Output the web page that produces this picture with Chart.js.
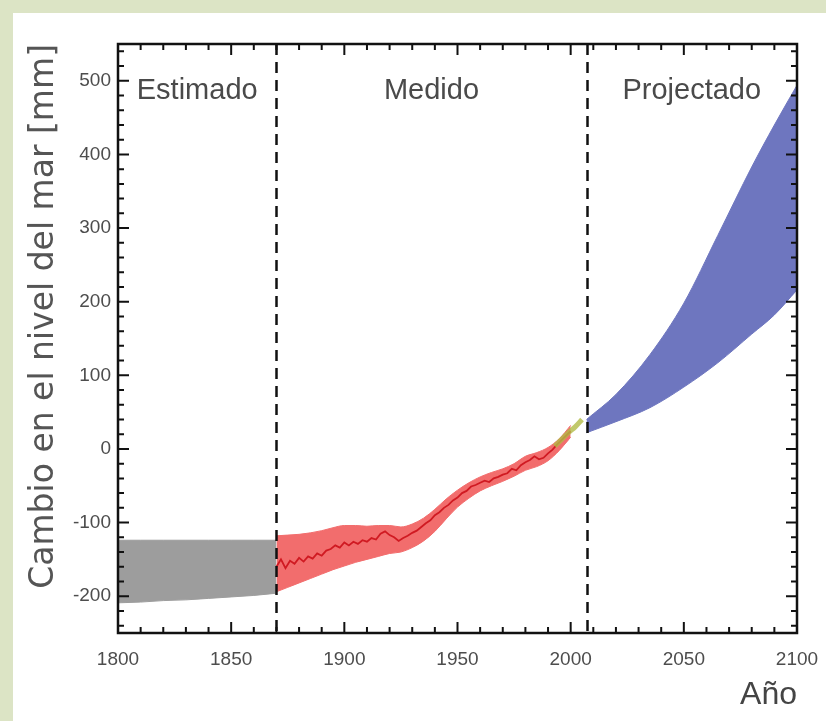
<!DOCTYPE html>
<html>
<head>
<meta charset="utf-8">
<script src="https://cdn.jsdelivr.net/npm/chart.js@4"></script>
<style>
  html, body { margin: 0; padding: 0; }
  body { width: 826px; height: 721px; background: #dce4c5; position: relative; overflow: hidden; }
  #panel { position: absolute; left: 13px; top: 13px; right: 0; bottom: 0; background: #fff; }
  #wrap { position: absolute; left: 0; top: 0; width: 826px; height: 721px; }
</style>
</head>
<body>
<div id="panel"></div>
<div id="wrap"><canvas id="seaChart" width="826" height="721"></canvas></div>
<script>
const xTickLabels = [1800, 1850, 1900, 1950, 2000, 2050, 2100];
const yTickLabels = [-200, -100, 0, 100, 200, 300, 400, 500];
const periodBounds = [1800, 1870, 2007, 2100];
const periodNames = ["Estimado", "Medido", "Projectado"];

// estimado (gris)
const estYears = [1800, 1810, 1820, 1830, 1840, 1850, 1860, 1870];
const estLow = [-209, -208, -206, -205, -203, -201, -199, -196];
const estHigh = [-124, -124, -124, -124, -124, -124, -124, -124];

// medido: banda de incertidumbre
const tideBandYears = [1870, 1875, 1880, 1885, 1890, 1895, 1900, 1905, 1910, 1915, 1920, 1925, 1930, 1935,
  1940, 1945, 1950, 1955, 1960, 1965, 1970, 1975, 1980, 1985, 1990, 1995, 2000];
const tideHigh = [-118, -117, -116, -114, -111, -107, -104, -104, -105, -104, -104, -106, -102, -94,
  -82, -68, -56, -46, -38, -32, -27, -20, -10, -5, 2, 14, 32];
const tideLow = [-194, -188, -182, -176, -170, -164, -159, -154, -150, -146, -142, -140, -134, -125,
  -112, -95, -79, -67, -57, -50, -44, -37, -29, -24, -16, -2, 16];

// medido: mareógrafos
const tideYears = [1870, 1872, 1874, 1876, 1878, 1880, 1882, 1884, 1886, 1888, 1890, 1892, 1894, 1896, 1898,
  1900, 1902, 1904, 1906, 1908, 1910, 1912, 1914, 1916, 1918, 1920, 1922, 1924, 1926, 1928,
  1930, 1932, 1934, 1936, 1938, 1940, 1942, 1944, 1946, 1948, 1950, 1952, 1954, 1956, 1958,
  1960, 1962, 1964, 1966, 1968, 1970, 1972, 1974, 1976, 1978, 1980, 1982, 1984, 1986, 1988,
  1990, 1992, 1994, 1996, 1998, 2000];
const tideValues = [-160, -150, -162, -152, -156, -148, -153, -146, -149, -142, -145, -138, -136, -131, -134,
  -127, -131, -126, -129, -124, -126, -121, -123, -115, -112, -117, -120, -125, -121, -118,
  -114, -111, -106, -101, -97, -90, -86, -80, -76, -70, -66, -60, -57, -51, -49,
  -46, -43, -45, -40, -38, -35, -33, -27, -29, -22, -18, -15, -10, -14, -12,
  -6, -1, 6, 12, 18, 24];

// satélite
const satYears = [1993, 1996, 1999, 2002, 2005];
const satValues = [4, 13, 22, 30, 40];

// proyectado
const projYears = [2007, 2020, 2035, 2050, 2065, 2080, 2090, 2100];
const projHigh = [40, 74, 128, 198, 290, 383, 440, 494];
const projLow = [22, 37, 56, 84, 117, 156, 182, 216];

const xy = (xs, ys) => xs.map((x, i) => ({ x: x, y: ys[i] }));

function band(years, vals, color, fill) {
  return {
    data: xy(years, vals),
    borderColor: color,
    borderWidth: 1,
    backgroundColor: color,
    fill: fill,
    pointRadius: 0,
    cubicInterpolationMode: "monotone",
    order: 5,
  };
}

const frameAndTicks = {
  id: "frameAndTicks",
  afterDatasetsDraw(chart) {
    const { ctx, chartArea: a, scales } = chart;
    const x = scales.x, y = scales.y;
    ctx.save();
    ctx.strokeStyle = "#111";

    // divisiones de periodo
    ctx.lineWidth = 2.5;
    ctx.setLineDash([11, 7]);
    periodBounds.slice(1, -1).forEach((yr) => {
      const px = Math.round(x.getPixelForValue(yr)) + 0.5;
      ctx.beginPath();
      ctx.moveTo(px, a.top);
      ctx.lineTo(px, a.bottom);
      ctx.stroke();
    });
    ctx.setLineDash([]);

    // marco
    ctx.lineWidth = 2.5;
    ctx.strokeRect(a.left, a.top, a.right - a.left, a.bottom - a.top);

    // marcas hacia dentro
    ctx.lineWidth = 2;
    ctx.beginPath();
    for (let yr = 1800; yr <= 2100; yr += 10) {
      const len = yr % 50 === 0 ? 11 : 6;
      const px = x.getPixelForValue(yr);
      ctx.moveTo(px, a.bottom);
      ctx.lineTo(px, a.bottom - len);
      ctx.moveTo(px, a.top);
      ctx.lineTo(px, a.top + len);
    }
    for (let v = -240; v <= 540; v += 20) {
      const len = v % 100 === 0 ? 11 : 6;
      const py = y.getPixelForValue(v);
      ctx.moveTo(a.left, py);
      ctx.lineTo(a.left + len, py);
      ctx.moveTo(a.right, py);
      ctx.lineTo(a.right - len, py);
    }
    ctx.stroke();

    // nombres de periodo
    ctx.fillStyle = "#4a4a4a";
    ctx.font = '29px "Liberation Sans"';
    ctx.textAlign = "center";
    ctx.textBaseline = "middle";
    periodNames.forEach((name, i) => {
      const mid = (periodBounds[i] + periodBounds[i + 1]) / 2;
      ctx.fillText(name, x.getPixelForValue(mid), a.top + 47);
    });
    ctx.restore();
  },
};

new Chart(document.getElementById("seaChart"), {
  type: "line",
  data: {
    datasets: [
      {
        data: xy(satYears, satValues),
        borderColor: "rgba(178, 186, 70, 0.8)",
        borderWidth: 5,
        pointRadius: 0,
        tension: 0.3,
        fill: false,
        order: 0,
      },
      {
        data: xy(tideYears, tideValues),
        borderColor: "#d01a22",
        borderWidth: 1.8,
        pointRadius: 0,
        tension: 0,
        fill: false,
        order: 1,
      },
      band(estYears, estLow, "#9d9d9d", false),
      band(estYears, estHigh, "#9d9d9d", "-1"),
      band(tideBandYears, tideLow, "#f26d6d", false),
      band(tideBandYears, tideHigh, "#f26d6d", "-1"),
      band(projYears, projLow, "#6e76bf", false),
      band(projYears, projHigh, "#6e76bf", "-1"),
    ],
  },
  options: {
    responsive: false,
    animation: false,
    layout: { padding: { left: 0, top: 44, right: 29, bottom: 0 } },
    plugins: {
      legend: { display: false },
      tooltip: { enabled: false },
    },
    scales: {
      x: {
        type: "linear",
        min: 1800,
        max: 2100,
        grid: { display: false, drawTicks: false },
        border: { display: false },
        afterBuildTicks: (s) => {
          s.ticks = xTickLabels.map((v) => ({ value: v }));
        },
        afterFit: (s) => {
          s.height = 88;
          s.paddingLeft = 0;
          s.paddingRight = 0;
        },
        ticks: {
          padding: 15,
          color: "#4d4d4d",
          font: { family: "Liberation Sans", size: 19 },
          maxRotation: 0,
          autoSkip: false,
          callback: (v) => String(v),
        },
        title: {
          display: true,
          text: "Año",
          align: "end",
          color: "#444",
          font: { family: "Liberation Sans", size: 32 },
          padding: { top: 0, bottom: 7 },
        },
      },
      y: {
        type: "linear",
        min: -250,
        max: 550,
        grid: { display: false, drawTicks: false },
        border: { display: false },
        afterBuildTicks: (s) => {
          s.ticks = yTickLabels.map((v) => ({ value: v }));
        },
        afterFit: (s) => {
          s.width = 118;
          s.paddingTop = 0;
          s.paddingBottom = 0;
        },
        ticks: {
          padding: 7,
          color: "#4d4d4d",
          font: { family: "Liberation Sans", size: 19 },
          callback: (v) => String(v),
        },
        title: {
          display: true,
          text: "Cambio en el nivel del mar [mm]",
          align: "end",
          color: "#555",
          font: { family: "DejaVu Sans", size: 33 },
          padding: { top: 25, bottom: 0 },
        },
      },
    },
  },
  plugins: [frameAndTicks],
});
</script>
</body>
</html>
